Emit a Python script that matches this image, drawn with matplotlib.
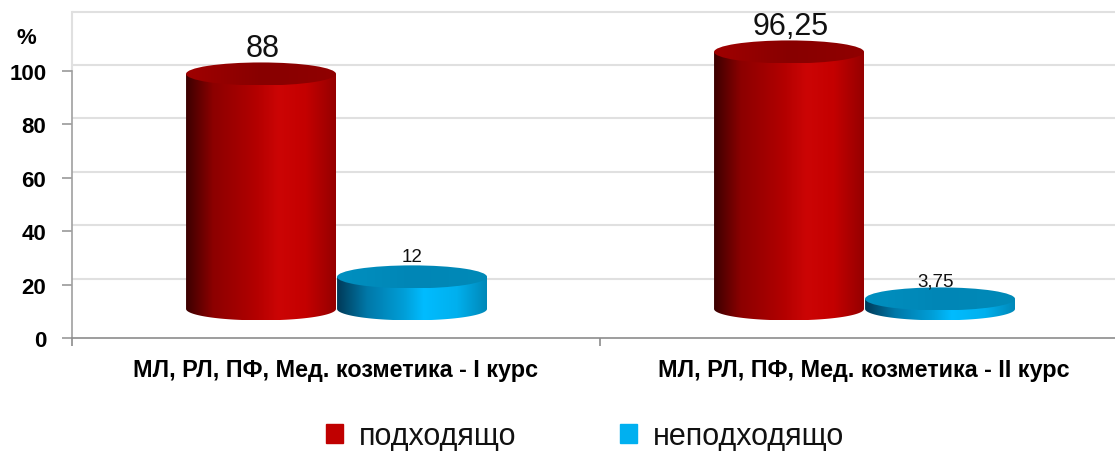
import numpy as np
import matplotlib
matplotlib.use('Agg')
import matplotlib.pyplot as plt
from matplotlib.colors import LinearSegmentedColormap
from matplotlib.patches import Ellipse, Polygon, Patch

categories = ['МЛ, РЛ, ПФ, Мед. козметика - I курс', 'МЛ, РЛ, ПФ, Мед. козметика - II курс']
suitable = [88, 96.25]
unsuitable = [12, 3.75]
suitable_labels = ['88', '96,25']
unsuitable_labels = ['12', '3,75']
legend_names = ['подходящо', 'неподходящо']
y_ticks = [0, 20, 40, 60, 80, 100]

plt.rcParams['font.family'] = ['Liberation Sans', 'DejaVu Sans']

W, H = 1115, 452
fig = plt.figure(figsize=(W / 100, H / 100), dpi=100)
# the category axis runs past the right edge of the picture, like in the original
ax = fig.add_axes([72 / W, (H - 339) / H, 1056 / W, 320.4 / H])

bar_w = 0.284
base = 10.9    # cylinders float above the axis floor
rim = 4.3      # half height of the ellipses
depth = 2.25   # back wall shift

red_body = LinearSegmentedColormap.from_list('rb', [(0, '#3c0000'), (0.18, '#8c0000'), (0.45, '#b00000'),
                                                    (0.62, '#cc0505'), (0.8, '#c40000'), (1, '#950000')])
red_top = LinearSegmentedColormap.from_list('rt', [(0, '#a00000'), (0.5, '#880000'), (1, '#900000')])
blue_body = LinearSegmentedColormap.from_list('bb', [(0, '#003a58'), (0.2, '#0078a8'), (0.45, '#009fd8'),
                                                     (0.58, '#00bcff'), (0.8, '#00b0ee'), (1, '#0088b8')])
blue_top = LinearSegmentedColormap.from_list('bt', [(0, '#0090c0'), (0.5, '#0086b6'), (1, '#008ab8')])


def gradient(cmap, left, right, bottom, top, clip, z):
    im = ax.imshow(np.linspace(0, 1, 256)[None, :], cmap=cmap, aspect='auto',
                   extent=(left, right, bottom, top), zorder=z, interpolation='bilinear')
    clip.set_transform(ax.transData)
    im.set_clip_path(clip)


def cylinder(cx, value, body_cmap, top_cmap, z):
    left, right = cx - bar_w / 2, cx + bar_w / 2
    y_top = base + value
    t = np.linspace(np.pi, 2 * np.pi, 80)
    pts = np.column_stack([cx + bar_w / 2 * np.cos(t), base + rim * np.sin(t)])
    pts = np.vstack([pts, [right, y_top], [left, y_top]])
    gradient(body_cmap, left, right, base - rim, y_top, Polygon(pts, closed=True), z)
    gradient(top_cmap, left, right, y_top - rim, y_top + rim,
             Ellipse((cx, y_top), bar_w, 2 * rim), z + 0.1)


# back wall
grid_vals = [20, 40, 60, 80, 100, 120]
ax.hlines([v + depth for v in grid_vals], -0.5, 1.5, color='#e0e0e0', lw=1.5, zorder=1, clip_on=False)
ax.plot([-0.5, -0.5], [100, 120 + depth], color='#e0e0e0', lw=1.5, zorder=1, clip_on=False)

for i in range(len(categories)):
    cylinder(i - bar_w / 2, suitable[i], red_body, red_top, 3)
    cylinder(i + bar_w / 2 + 0.002, unsuitable[i], blue_body, blue_top, 3)
    ax.annotate(suitable_labels[i], (i - bar_w / 2, base + suitable[i] + rim), xytext=(1.5, 4.5),
                textcoords='offset points', ha='center', va='baseline', fontsize=22, color='#111111', zorder=6)
    ax.annotate(unsuitable_labels[i], (i + bar_w / 2, base + unsuitable[i] + rim),
                xytext=(0.5, 3.5) if i == 0 else (-2.5, 1.2),
                textcoords='offset points', ha='center', va='baseline', fontsize=13.5, color='#111111', zorder=6)

ax.set_xlim(-0.5, 1.5)
ax.set_ylim(0, 120)

ax.set_yticks(y_ticks)
ax.set_yticklabels([str(v) for v in y_ticks], fontsize=16, fontweight='bold')
ax.set_xticks([-0.5, 0.5, 1.5])
ax.set_xticklabels([])
ax.set_xticks([0, 1], minor=True)
ax.set_xticklabels(categories, minor=True, fontsize=16.8, fontweight='bold')
ax.tick_params(axis='y', length=7, width=1.2, color='#9a9a9a', pad=11.5)
ax.tick_params(axis='x', which='major', length=5.5, width=1.2, color='#8c8c8c')
ax.tick_params(axis='x', which='minor', length=0, pad=14.5)

ax.spines['right'].set_color('none')
ax.spines['top'].set_color('none')
ax.spines['left'].set_bounds(0, 100)
ax.spines['left'].set_color('#a0a0a0')
ax.spines['left'].set_linewidth(1.2)
ax.spines['bottom'].set_color('#8c8c8c')
ax.spines['bottom'].set_linewidth(1.2)
ax.patch.set_alpha(0)

fig.text(26 / W, 1 - 38 / H, '%', fontsize=16, fontweight='bold', ha='center', va='center')

handles = [Patch(color='#c00000'), Patch(color='#00b0f0')]
fig.legend(handles, legend_names, loc='center', bbox_to_anchor=(585 / W, 1 - 437 / H), ncol=2, frameon=False,
           fontsize=22, handlelength=0.56, handleheight=0.56, handletextpad=0.5, columnspacing=3.4,
           labelcolor='#111111', borderpad=0, borderaxespad=0)

fig.savefig('out.png', dpi=100)
